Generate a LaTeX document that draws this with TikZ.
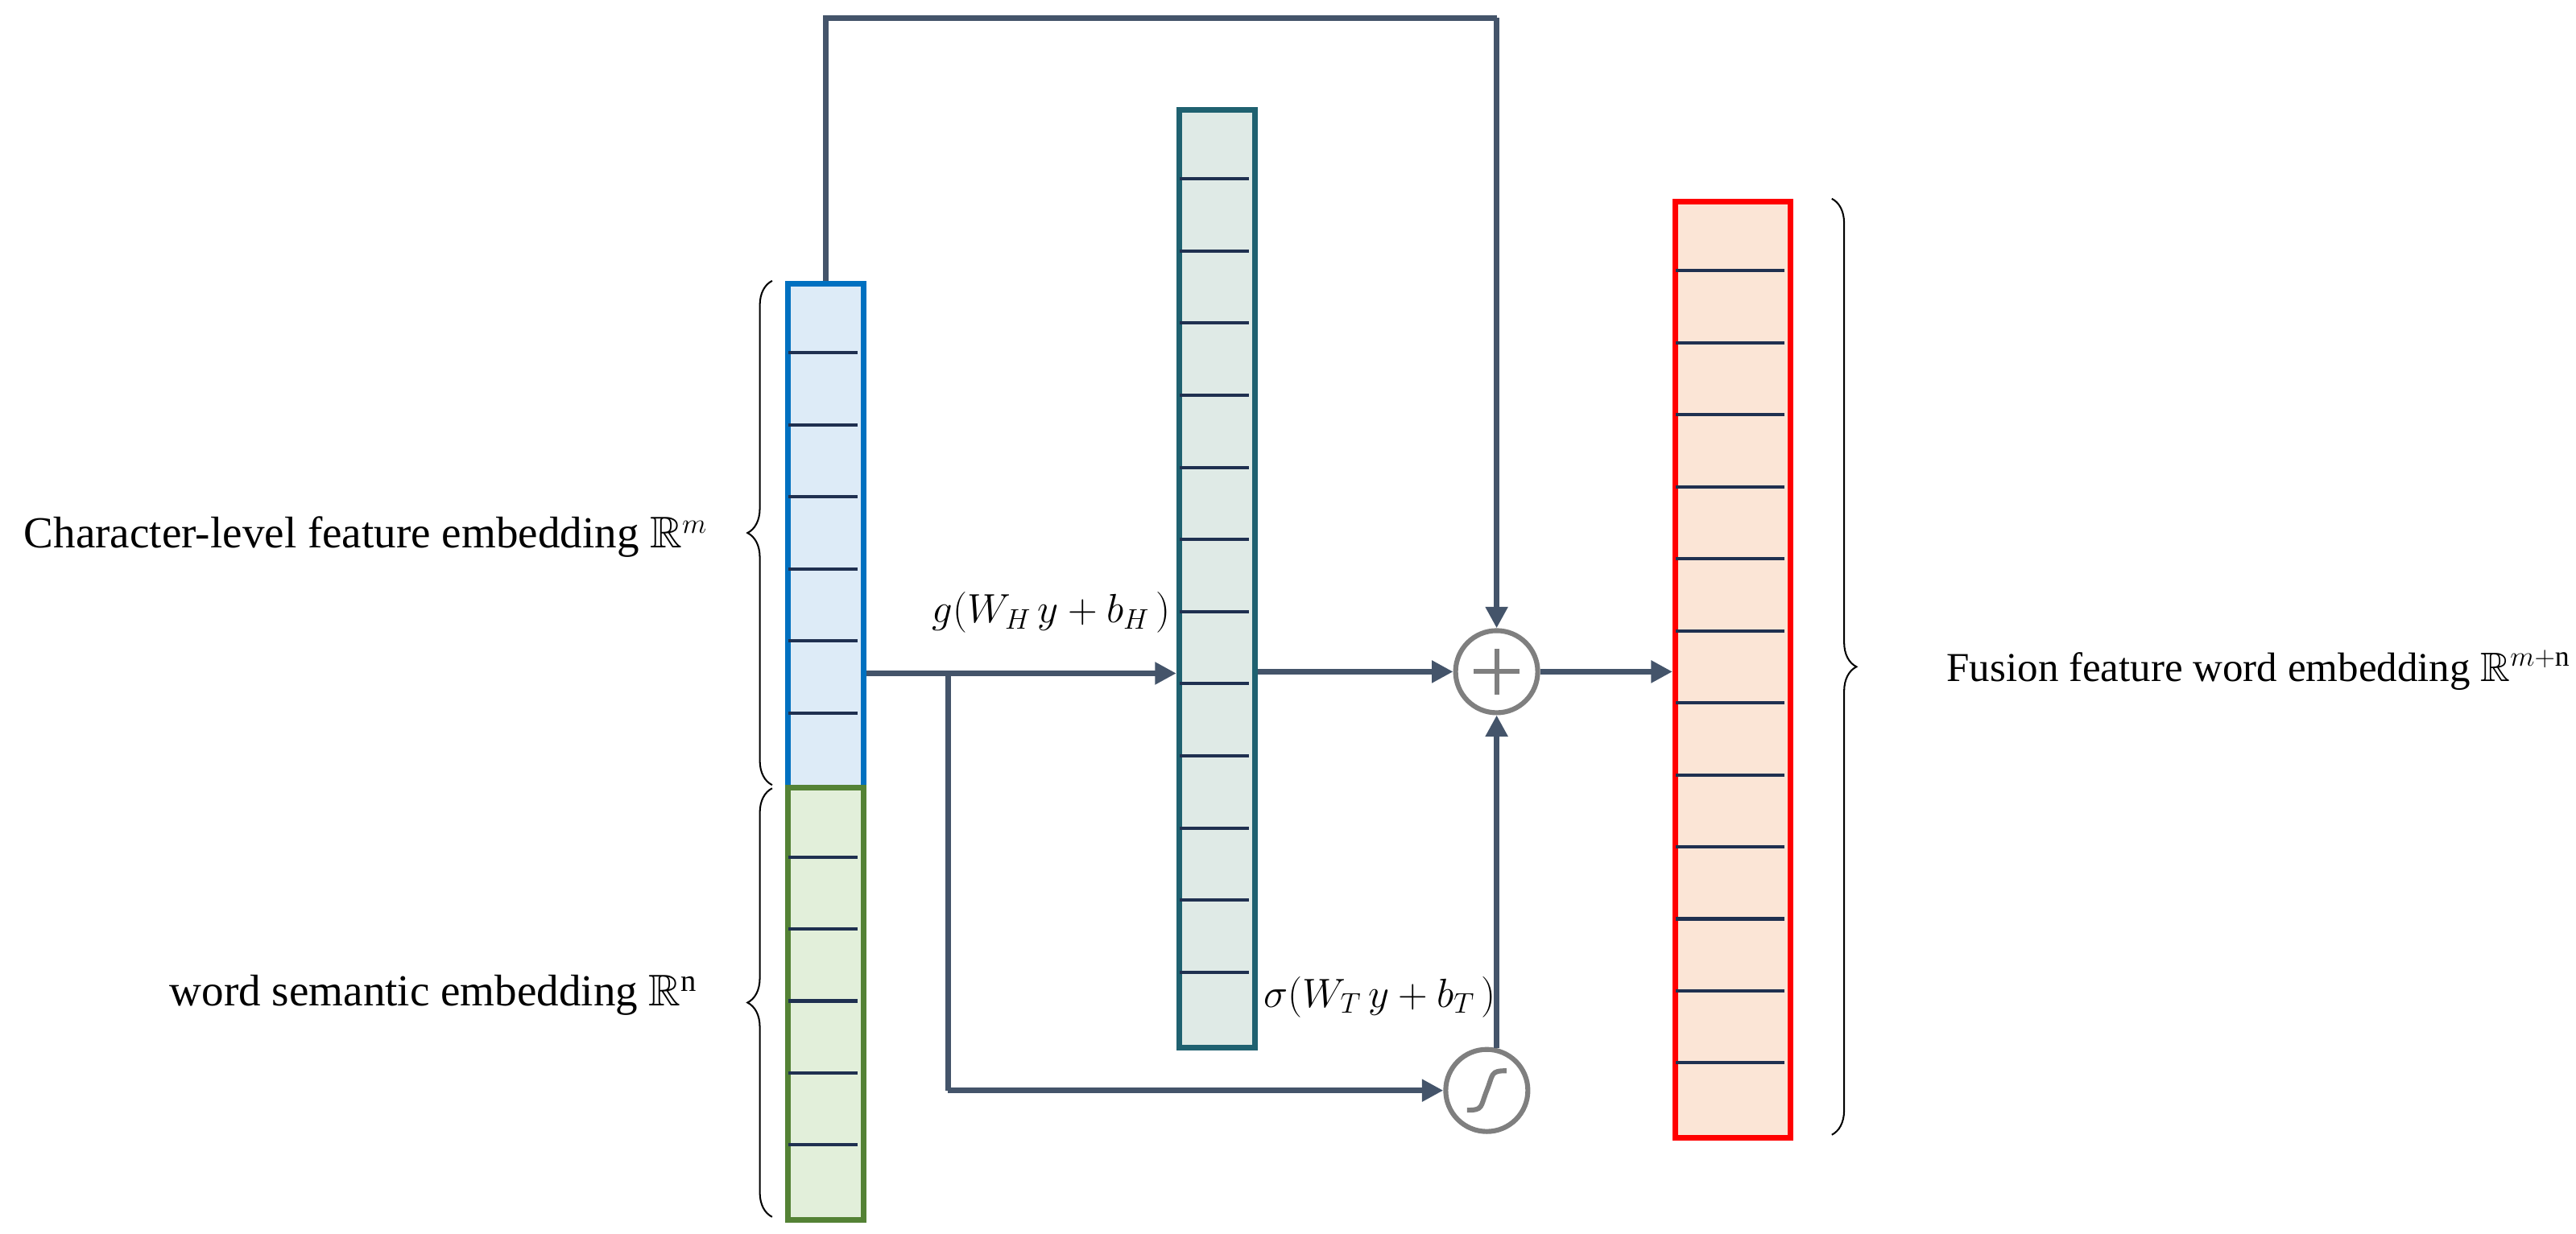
\documentclass[tikz,border=0pt]{standalone}
\usepackage{amssymb}
\usepackage{fontspec}
\setmainfont{Liberation Serif}
\usetikzlibrary{decorations.pathreplacing,arrows.meta}
\definecolor{arr}{HTML}{44546A}
\definecolor{cellln}{HTML}{1F3050}
\definecolor{bluebd}{HTML}{0070C0}\definecolor{bluefl}{HTML}{DDEBF7}
\definecolor{grnbd}{HTML}{548235}\definecolor{grnfl}{HTML}{E2EFDA}
\definecolor{tealbd}{HTML}{1F6170}\definecolor{tealfl}{HTML}{DFEAE6}
\definecolor{redbd}{HTML}{FF0000}\definecolor{redfl}{HTML}{FBE5D6}
\definecolor{circ}{HTML}{7F7F7F}
\begin{document}
\begin{tikzpicture}[x=1pt,y=-1pt,
  col/.style={draw,line width=3.5pt,inner sep=0pt,anchor=north west},
  conn/.style={draw=arr,line width=3.5pt,-{Triangle[length=13pt,width=13pt]}},
  line/.style={draw=arr,line width=3.5pt},
  op/.style={circle,draw=circ,line width=3pt,minimum size=50pt,inner sep=0pt,fill=white},
  lbl/.style={font=\fontsize{27}{31}\selectfont},
  brace/.style={decorate,decoration={brace,amplitude=15pt},line width=1pt}]
\useasboundingbox (0,0) rectangle (1568,751);
% columns
\node[col,draw=bluebd,fill=bluefl,minimum width=46pt,minimum height=307pt] (blue) at (478,171) {};
\node[col,draw=grnbd,fill=grnfl,minimum width=46pt,minimum height=263pt] (green) at (478,478) {};
\node[col,draw=tealbd,fill=tealfl,minimum width=46pt,minimum height=571pt] (teal) at (716,65) {};
\node[col,draw=redbd,fill=redfl,minimum width=70pt,minimum height=570pt] (red) at (1018,121) {};
\foreach \i in {1,...,6} \draw[cellln,line width=2pt] (480,171+\i*43.86) -- (522,171+\i*43.86);
\foreach \i in {1,...,5} \draw[cellln,line width=2pt] (480,478+\i*43.83) -- (522,478+\i*43.83);
\foreach \i in {1,...,12} \draw[cellln,line width=2pt] (718,65+\i*43.92) -- (760,65+\i*43.92);
\foreach \i in {1,...,12} \draw[cellln,line width=2pt] (1020,121+\i*43.85) -- (1086,121+\i*43.85);
% operators
\node[op] (plus) at (911,409) {};
\draw[circ,line width=3pt] (plus.center) ++(-14,0) -- ++(28,0) (plus.center) ++(0,-14) -- ++(0,28);
\node[op] (sig) at (905,664) {};
\draw[circ,line width=3pt] (sig.center) ++(-12,12) .. controls ++(10,0) and ++(-4,10) .. ++(12,-12) .. controls ++(4,-10) and ++(-10,0) .. ++(12,-12);
% connectors
\coordinate (top1) at (501,11);
\coordinate (top2) at (911,11);
\coordinate (br) at (577,410);
\draw[line] (blue.north) -- (blue.north |- top1) -- (top2);
\draw[conn] (top2) -- (plus.north);
\draw[conn] (blue.east |- br) -- (teal.west |- br);
\draw[line] (br) -- (br |- sig);
\draw[conn] (br |- sig) -- (sig.west);
\draw[conn] (teal.east |- plus) -- (plus.west);
\draw[conn] (911,638) -- (plus.south);
\draw[conn] (plus.east) -- (red.west |- plus);
% labels
\node[lbl] (gl) at (640,373) {$g(W_{H}\,y+b_{H}\,)$};
\node[lbl] (sl) at (840,607) {$\sigma(W_{T}\,y+b_{T}\,)$};
\draw[brace] (470,478) -- (470,171) coordinate[midway] (b1);
\draw[brace] (470,741) -- (470,480) coordinate[midway] (b2);
\draw[brace] (1115,121) -- (1115,691) coordinate[midway] (b3);
\node[lbl,anchor=east] (t1) at (434,327) {Character-level feature embedding $\mathbb{R}^{m}$};
\node[lbl,anchor=east] (t2) at (428,606) {word semantic embedding $\mathbb{R}^{\mathrm{n}}$};
\node[lbl,anchor=east,font=\fontsize{25}{29}\selectfont] (t3) at (1568,408) {Fusion feature word embedding $\mathbb{R}^{m+\mathrm{n}}$};
\end{tikzpicture}
\end{document}
